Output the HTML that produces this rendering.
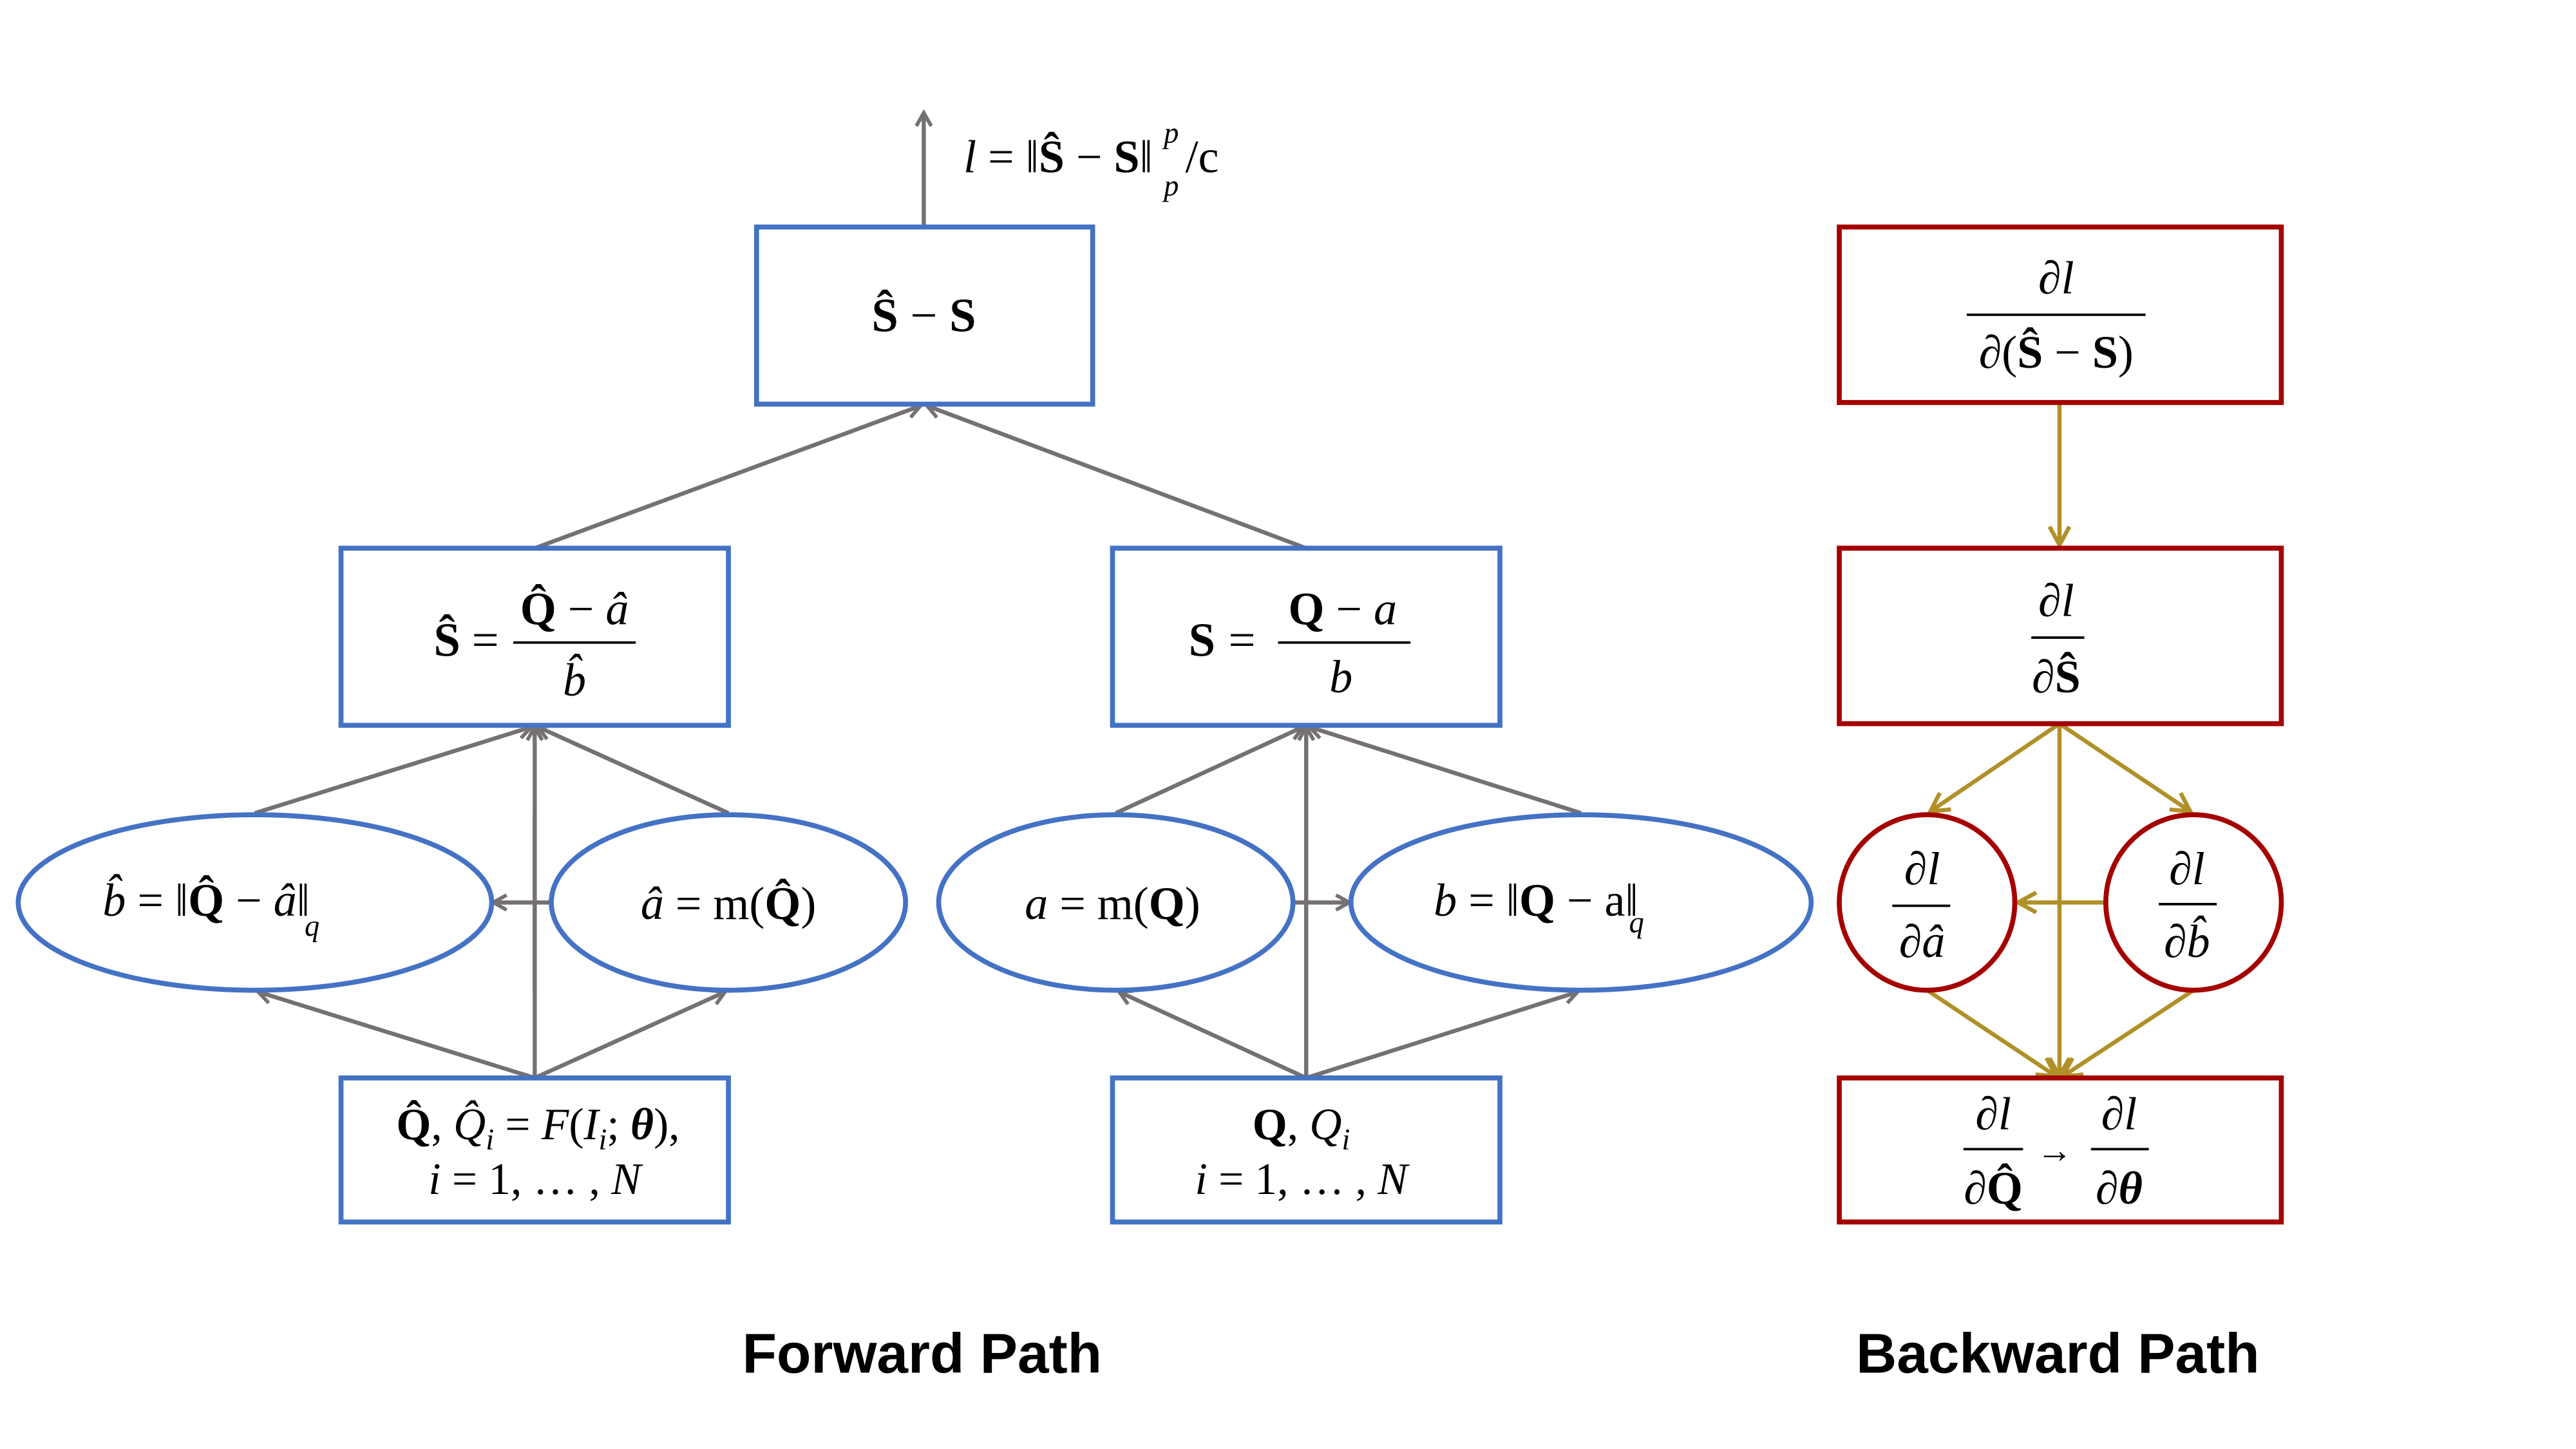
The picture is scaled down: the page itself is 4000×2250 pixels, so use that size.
<!DOCTYPE html>
<html><head><meta charset="utf-8"><style>
html,body{margin:0;padding:0;background:#fff;}
svg{display:block;}
text{font-family:"Liberation Serif","DejaVu Serif",serif;fill:#000;}
.i{font-style:italic;}
.b{font-weight:bold;}
.t{font-family:"Liberation Sans","DejaVu Sans",sans-serif;font-weight:bold;}
</style></head><body>
<svg width="4000" height="2250" viewBox="0 0 1556 875" xmlns="http://www.w3.org/2000/svg">
<defs>
<marker id="ag" markerWidth="12" markerHeight="12" refX="9" refY="6" orient="auto" markerUnits="userSpaceOnUse">
<path d="M1,1.5 L9,6 L1,10.5" fill="none" stroke="#767171" stroke-width="2.2"/></marker>
<marker id="ao" markerWidth="16" markerHeight="16" refX="13" refY="8" orient="auto" markerUnits="userSpaceOnUse">
<path d="M2,2 L13,8 L2,14" fill="none" stroke="#b09028" stroke-width="2.5"/></marker>
</defs>
<rect width="1556" height="875" fill="#fff"/>

<g stroke="#767171" stroke-width="2.5" fill="none" marker-end="url(#ag)">
<line x1="558" y1="137" x2="558" y2="68"/>
<line x1="323" y1="331" x2="556" y2="245"/>
<line x1="789" y1="331" x2="560" y2="245"/>
<line x1="154" y1="491" x2="321" y2="439"/>
<line x1="440" y1="491" x2="325" y2="439"/>
<line x1="323" y1="651" x2="323" y2="439"/>
<line x1="333" y1="545" x2="298" y2="545"/>
<line x1="323" y1="651" x2="156" y2="599"/>
<line x1="323" y1="651" x2="438" y2="599"/>
<line x1="674" y1="491" x2="787" y2="439"/>
<line x1="955" y1="491" x2="791" y2="439"/>
<line x1="789" y1="651" x2="789" y2="439"/>
<line x1="781" y1="545" x2="815" y2="545"/>
<line x1="789" y1="651" x2="676" y2="599"/>
<line x1="789" y1="651" x2="953" y2="599"/>
</g>

<g stroke="#4472c4" stroke-width="3" fill="#fff">
<rect x="457" y="137" width="203" height="107"/>
<rect x="206" y="331" width="234" height="107"/>
<rect x="672" y="331" width="234" height="107"/>
<ellipse cx="154" cy="545" rx="143" ry="53"/>
<ellipse cx="440" cy="545" rx="107" ry="53"/>
<ellipse cx="674" cy="545" rx="107" ry="53"/>
<ellipse cx="955" cy="545" rx="139" ry="53"/>
<rect x="206" y="651" width="234" height="87"/>
<rect x="672" y="651" width="234" height="87"/>
</g>
<g stroke="#767171" stroke-width="2.5">
<line x1="323" y1="598" x2="323" y2="491"/>
<line x1="789" y1="598" x2="789" y2="491"/>
</g>

<text x="582" y="104" font-size="28"><tspan class="i">l</tspan> = ‖<tspan class="b">Ŝ</tspan> − <tspan class="b">S</tspan>‖</text>
<text x="703" y="86" font-size="18" class="i">p</text>
<text x="703" y="118" font-size="18" class="i">p</text>
<text x="716" y="104" font-size="28">/c</text>

<text x="558" y="200" font-size="29" text-anchor="middle"><tspan class="b">Ŝ</tspan> − <tspan class="b">S</tspan></text>

<text x="270" y="396" font-size="29" text-anchor="middle" class="b">Ŝ</text>
<text x="285" y="396" font-size="29">=</text>
<text x="347" y="377" font-size="28" text-anchor="middle"><tspan class="b">Q̂</tspan> − <tspan class="i">â</tspan></text>
<line x1="310" y1="388" x2="384" y2="388" stroke="#000" stroke-width="1.5"/>
<text x="347" y="420" font-size="28" text-anchor="middle" class="i">b̂</text>

<text x="726" y="396" font-size="29" text-anchor="middle" class="b">S</text>
<text x="742" y="396" font-size="29">=</text>
<text x="811" y="377" font-size="28" text-anchor="middle"><tspan class="b">Q</tspan> − <tspan class="i">a</tspan></text>
<line x1="772" y1="388" x2="852" y2="388" stroke="#000" stroke-width="1.5"/>
<text x="810" y="418" font-size="28" text-anchor="middle" class="i">b</text>

<text x="62" y="553" font-size="28"><tspan class="i">b̂</tspan> = ‖<tspan class="b">Q̂</tspan> − <tspan class="i">â</tspan>‖</text>
<text x="184" y="565" font-size="18" class="i">q</text>
<text x="440" y="555" font-size="28" text-anchor="middle"><tspan class="i">â</tspan> = m(<tspan class="b">Q̂</tspan>)</text>
<text x="672" y="555" font-size="28" text-anchor="middle"><tspan class="i">a</tspan> = m(<tspan class="b">Q</tspan>)</text>
<text x="866" y="553" font-size="28"><tspan class="i">b</tspan> = ‖<tspan class="b">Q</tspan> − a‖</text>
<text x="984" y="563" font-size="18" class="i">q</text>

<text x="325" y="688" font-size="27" text-anchor="middle"><tspan class="b">Q̂</tspan>, <tspan class="i">Q̂</tspan><tspan class="i" font-size="18" dy="6">i</tspan><tspan dy="-6"> = </tspan><tspan class="i">F</tspan>(<tspan class="i">I</tspan><tspan class="i" font-size="18" dy="6">i</tspan><tspan dy="-6">; </tspan><tspan class="b i">θ</tspan>),</text>
<text x="323" y="721" font-size="27" text-anchor="middle"><tspan class="i">i</tspan> = 1, … , <tspan class="i">N</tspan></text>
<text x="786" y="688" font-size="27" text-anchor="middle"><tspan class="b">Q</tspan>, <tspan class="i">Q</tspan><tspan class="i" font-size="18" dy="6">i</tspan></text>
<text x="786" y="721" font-size="27" text-anchor="middle"><tspan class="i">i</tspan> = 1, … , <tspan class="i">N</tspan></text>

<g stroke="#b09028" stroke-width="2.5" fill="none" marker-end="url(#ao)">
<line x1="1244" y1="243" x2="1244" y2="329"/>
<line x1="1244" y1="437" x2="1166" y2="490"/>
<line x1="1244" y1="437" x2="1323" y2="490"/>
<line x1="1244" y1="437" x2="1244" y2="650"/>
<line x1="1271" y1="545" x2="1219" y2="545"/>
<line x1="1164" y1="598" x2="1242" y2="650"/>
<line x1="1325" y1="598" x2="1246" y2="650"/>
</g>
<g stroke="#a50000" stroke-width="3" fill="none">
<rect x="1111" y="137" width="267" height="106"/>
<rect x="1111" y="331" width="267" height="106"/>
<rect x="1111" y="651" width="267" height="87"/>
<ellipse cx="1164" cy="545" rx="53" ry="53"/>
<ellipse cx="1325" cy="545" rx="53" ry="53"/>
</g>

<text x="1242" y="177" font-size="28" text-anchor="middle">∂<tspan class="i">l</tspan></text>
<line x1="1188" y1="190" x2="1296" y2="190" stroke="#000" stroke-width="1.5"/>
<text x="1242" y="222" font-size="28" text-anchor="middle">∂(<tspan class="b">Ŝ</tspan> − <tspan class="b">S</tspan>)</text>

<text x="1242" y="372" font-size="28" text-anchor="middle">∂<tspan class="i">l</tspan></text>
<line x1="1227" y1="385" x2="1259" y2="385" stroke="#000" stroke-width="1.5"/>
<text x="1242" y="418" font-size="28" text-anchor="middle">∂<tspan class="b">Ŝ</tspan></text>

<text x="1161" y="534" font-size="28" text-anchor="middle">∂<tspan class="i">l</tspan></text>
<line x1="1143" y1="547" x2="1178" y2="547" stroke="#000" stroke-width="1.5"/>
<text x="1161" y="578" font-size="28" text-anchor="middle">∂<tspan class="i">â</tspan></text>
<text x="1321" y="534" font-size="28" text-anchor="middle">∂<tspan class="i">l</tspan></text>
<line x1="1304" y1="546" x2="1339" y2="546" stroke="#000" stroke-width="1.5"/>
<text x="1321" y="578" font-size="28" text-anchor="middle">∂<tspan class="i">b̂</tspan></text>

<text x="1204" y="682" font-size="28" text-anchor="middle">∂<tspan class="i">l</tspan></text>
<line x1="1186" y1="694" x2="1222" y2="694" stroke="#000" stroke-width="1.5"/>
<text x="1204" y="727" font-size="28" text-anchor="middle">∂<tspan class="b">Q̂</tspan></text>
<text x="1241" y="702" font-size="22" text-anchor="middle">→</text>
<text x="1280" y="682" font-size="28" text-anchor="middle">∂<tspan class="i">l</tspan></text>
<line x1="1263" y1="694" x2="1298" y2="694" stroke="#000" stroke-width="1.5"/>
<text x="1280" y="727" font-size="28" text-anchor="middle">∂<tspan class="b i">θ</tspan></text>

<text x="557" y="829" font-size="34" text-anchor="middle" class="t">Forward Path</text>
<text x="1243" y="829" font-size="34" text-anchor="middle" class="t">Backward Path</text>
</svg>
</body></html>
